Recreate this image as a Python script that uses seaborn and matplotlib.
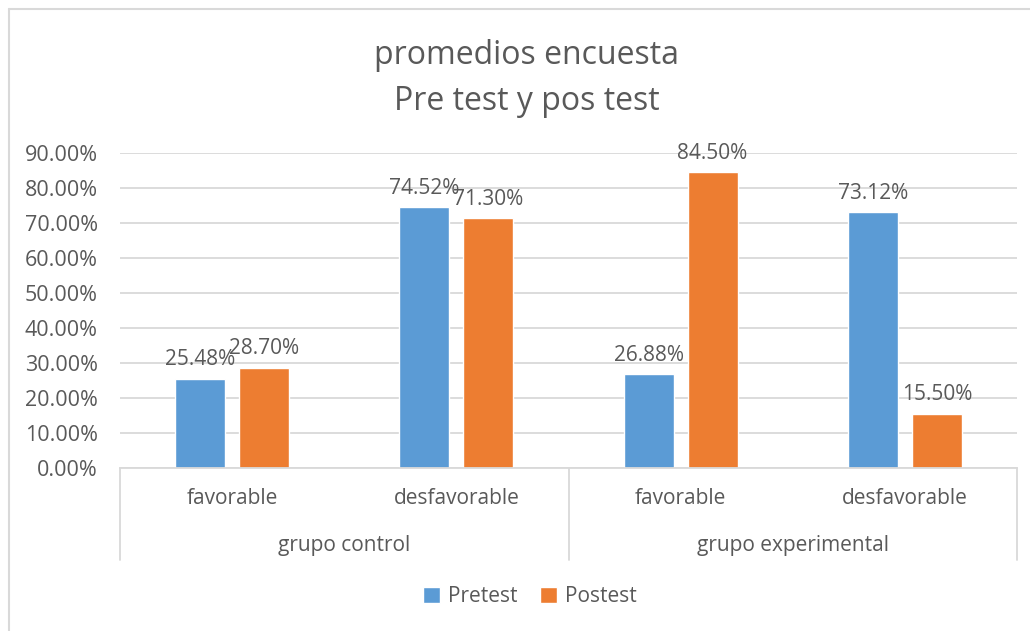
import pandas as pd
import matplotlib.pyplot as plt
import seaborn as sns
from matplotlib.lines import Line2D
from matplotlib.transforms import blended_transform_factory

# datos
grupos = ["grupo control", "grupo experimental"]
niveles = ["favorable", "desfavorable", "favorable", "desfavorable"]
categorias = ["control favorable", "control desfavorable",
              "experimental favorable", "experimental desfavorable"]
pretest = [0.2548, 0.7452, 0.2688, 0.7312]
postest = [0.2870, 0.7130, 0.8450, 0.1550]
series = ["Pretest", "Postest"]
yticks = [0.0, 0.1, 0.2, 0.3, 0.4, 0.5, 0.6, 0.7, 0.8, 0.9]

df = pd.DataFrame({
    "categoria": categorias * 2,
    "valor": pretest + postest,
    "serie": [series[0]] * 4 + [series[1]] * 4,
})

sns.set_theme(style="white")
plt.rcParams["font.family"] = ["Open Sans", "DejaVu Sans"]
gris = "#595959"
linea = "#d9d9d9"

W, H = 1030, 631
fig = plt.figure(figsize=(W / 100, H / 100), dpi=100)
ax = fig.add_axes([120 / W, 1 - 468 / H, (1017 - 120) / W, (468 - 153) / H])

sns.barplot(data=df, x="categoria", y="valor", hue="serie", order=categorias,
            hue_order=series, palette=["#5B9BD5", "#ED7D31"], width=0.57, gap=0.22,
            saturation=1, ax=ax)

handles, labels = ax.get_legend_handles_labels()
ax.get_legend().remove()

for cont in ax.containers:
    ax.bar_label(cont, labels=[f"{v * 100:.2f}%" for v in cont.datavalues],
                 padding=6, fontsize=15, color=gris)

ax.set_ylim(0, 0.9)
ax.set_xlim(-0.5, 3.5)
ax.set_yticks(yticks)
ax.set_yticklabels([f"{v * 100:.2f}%" for v in yticks])
ax.tick_params(axis="y", length=0, pad=16, labelsize=15.5, labelcolor=gris)
ax.set_xticks([])
ax.set_xlabel("")
ax.set_ylabel("")
ax.yaxis.grid(True, color=linea, linewidth=1.3)
ax.set_axisbelow(True)
for s in ["left", "right", "top"]:
    ax.spines[s].set_visible(False)
ax.spines["bottom"].set_color(linea)
ax.spines["bottom"].set_linewidth(1.3)

# eje de categorias en dos niveles
alto = 468 - 153
tr = blended_transform_factory(ax.transData, ax.transAxes)
for i, n in enumerate(niveles):
    ax.text(i, -30 / alto, n, transform=tr, ha="center", va="center",
            fontsize=15, color=gris)
for j, g in enumerate(grupos):
    ax.text(2 * j + 0.5, -77 / alto, g, transform=tr, ha="center", va="center",
            fontsize=15, color=gris)
for xs in [-0.5, 1.5, 3.5]:
    ax.plot([xs, xs], [0, -92 / alto], transform=tr, color=linea, lw=1.3,
            clip_on=False)

fig.text(527 / W, 1 - 56 / H, "promedios encuesta", ha="center", va="center",
         fontsize=23, color=gris)
fig.text(527 / W, 1 - 101 / H, "Pre test y pos test", ha="center", va="center",
         fontsize=23, color=gris)

fig.legend(handles, labels, loc="center", bbox_to_anchor=(530 / W, 1 - 597 / H),
           ncol=2, frameon=False, fontsize=15, labelcolor=gris,
           handlelength=0.8, handleheight=0.8, handletextpad=0.4,
           columnspacing=1.1)

# borde del area del grafico
fig.add_artist(Line2D([8.5 / W, 8.5 / W], [0, 1 - 9 / H], color=linea, lw=1.5))
fig.add_artist(Line2D([8.5 / W, 1], [1 - 9 / H, 1 - 9 / H], color=linea, lw=1.5))

fig.savefig("out.png", dpi=100, facecolor="white")
